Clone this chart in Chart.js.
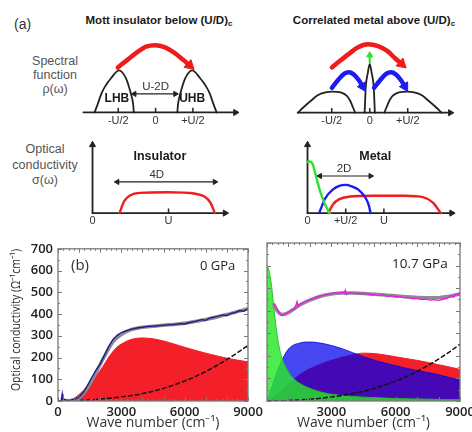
<!DOCTYPE html>
<html>
<head>
<meta charset="utf-8">
<script src="https://cdn.jsdelivr.net/npm/chart.js@4.4.1/dist/chart.umd.min.js"></script>
<style>
body{margin:0;width:472px;height:432px;overflow:hidden;background:#fff;position:relative;font-family:"Liberation Sans",Arial,sans-serif;}
canvas{position:absolute;}
.lbl{position:absolute;white-space:nowrap;color:#333;}
.ttl{position:absolute;white-space:nowrap;color:#1a1a1a;font-weight:bold;font-size:11.5px;line-height:14px;text-align:center;width:200px;}
.ttl sub{font-size:8px;vertical-align:-2px;}
.side{position:absolute;color:#555;font-size:12.5px;text-align:center;}
</style>
</head>
<body>

<div class="lbl" style="left:14px;top:16px;font-size:14px;">(a)</div>
<div class="ttl" style="left:59px;top:13px;">Mott insulator below (U/D)<sub>c</sub></div>
<div class="ttl" style="left:274px;top:13px;">Correlated metal above (U/D)<sub>c</sub></div>
<div class="side" style="left:15px;top:54px;width:80px;line-height:14px;">Spectral<br>function<br>ρ(ω)</div>
<div class="side" style="left:0px;top:142px;width:90px;line-height:15.5px;">Optical<br>conductivity<br>σ(ω)</div>

<canvas id="specIns"></canvas>
<canvas id="specMet"></canvas>
<canvas id="condIns"></canvas>
<canvas id="condMet"></canvas>
<canvas id="gpa0"></canvas>
<canvas id="gpa107"></canvas>

<div class="lbl" style="left:15px;top:320px;font-family:'Open Sans';font-size:12.5px;color:#2a2a2a;transform:translate(-50%,-50%) rotate(-90deg) scaleX(0.84);">Optical conductivity (Ω⁻¹cm⁻¹)</div>
<div class="lbl" style="left:71px;top:254px;font-family:'Open Sans';font-size:15px;">(b)</div>
<div class="lbl" style="left:200px;top:256px;font-family:'Open Sans';font-size:13px;color:#222;">0 GPa</div>
<div class="lbl" style="left:392px;top:254px;font-family:'Open Sans';font-size:13.5px;color:#222;">10.7 GPa</div>

<script>

/* ---------- (a) spectral function, x in units of U/2 ---------- */

const specTicks = [-1, 0, 1];
const specTickText = ["-U/2", "0", "+U/2"];

const lhbX = [-1.637,-1.556,-1.447,-1.341,-1.2,-0.978,-0.79,-0.723,-0.667,-0.6,-0.583];
const lhbY = [0,0.186,0.462,0.636,0.807,1,0.807,0.636,0.462,0.186,0];
const uhbX = [0.583,0.6,0.667,0.723,0.79,0.978,1.2,1.341,1.447,1.556,1.637];
const uhbY = [0,0.186,0.462,0.636,0.807,1,0.807,0.636,0.462,0.186,0];
const hopInsX = [-1.012,-0.748,-0.5,-0.254,-0.007,0.24,0.487,0.733,0.914];
const hopInsY = [1.07,1.257,1.429,1.567,1.6,1.553,1.429,1.257,1.118];
const gapX = [-0.568, 0.528];
const gapY = 0.441;
const specAxisInsX = [-1.933, 2.141];

const hbLeftX = [-1.896,-1.735,-1.532,-1.371,-1.167,-0.983,-0.765,-0.602,-0.522,-0.439,-0.383];
const hbRightX = [0.383,0.439,0.522,0.602,0.765,0.983,1.167,1.371,1.532,1.735,1.896];
const hbLeftY = [0,0.137,0.296,0.414,0.482,0.503,0.482,0.4,0.296,0.124,0];
const hbRightY = [0,0.124,0.296,0.4,0.482,0.503,0.482,0.414,0.296,0.137,0];
const qpX = [-0.135,-0.105,-0.05,0,0.05,0.105,0.135];
const qpY = [0,0.6,0.95,1.16,0.95,0.6,0];
const hopMetX = [-0.995,-0.791,-0.549,-0.306,-0.049,0.218,0.461,0.665,0.842];
const hopMetY = [1.077,1.228,1.4,1.559,1.627,1.586,1.47,1.296,1.159];
const hopLeftX = [-0.995,-0.833,-0.67,-0.549,-0.427,-0.291,-0.184];
const hopRightX = [0.114,0.277,0.439,0.561,0.682,0.818,0.925];
const hopSmallY = [0.592,0.778,0.932,0.965,0.917,0.778,0.621];
const qpArrowX = [0, 0];
const qpArrowY = [1.2, 1.37];
const specAxisMetX = [-1.883, 2.121];

/* ---------- (a) optical conductivity, x in units of U ---------- */

const sigInsX = [0.355,0.417,0.498,0.62,0.988,1.355,1.478,1.551,1.609];
const sigInsY = [0,0.277,0.414,0.47,0.484,0.449,0.381,0.242,0];
const band4DX = [0.326, 1.609];
const band4DY = 0.725;
const condAxisInsX = [0, 1.744];

const drudeSchX = [0,0.03,0.07,0.11,0.17,0.23,0.29];
const drudeSchY = [1.19,1.2,1.13,0.86,0.48,0.2,0];
const midSchX = [0.151,0.191,0.233,0.335,0.417,0.498,0.58,0.662,0.763,0.804,0.825];
const midSchY = [0,0.174,0.346,0.553,0.636,0.656,0.621,0.553,0.346,0.174,0];
const hubSchX = [0.273,0.335,0.417,0.539,0.865,1.275,1.52,1.642,1.744];
const hubSchY = [0,0.207,0.325,0.381,0.402,0.402,0.366,0.242,0];
const band2DX = [0.163, 0.825];
const band2DY = 0.863;
const condAxisMetX = [0, 1.887];
const condAxisTop = 1.588;

/* ---------- (b) measured / fitted spectra ---------- */

const wn0 = [150,200,230,300,400,500,600,800,1000,1200,1400,1600,1800,2000,2200,2400,2600,2800,3000,3200,3400,3600,3800,4000,4300,4600,4900,5200,5500,5800,6000,6200,6500,6800,7000,7200,7500,7800,8000,8200,8400,8600,8800,9000];
const sig0 = [2,32,6,8,4,3,4,8,18,40,72,108,142,172,210,250,282,302,315,322,328,333,337,339,343,345,348,350,352,356,354,360,366,374,371,382,388,396,393,403,407,416,413,424];
const fitW0 = [300,600,1000,1400,1800,2200,2600,3000,3400,3800,4200,5000,6000,7000,8000,9000];
const fit0 = [0,3,15,62,130,205,272,306,326,336,341,348,358,375,398,425];
const redW0 = [300,600,1000,1500,2000,2500,2800,3000,3500,4000,4500,5000,5500,6000,6500,7000,7500,8000,8500,9000];
const red0 = [0,5,30,80,140,215,248,262,284,290,286,276,262,247,233,220,208,197,188,180];

const dashW = [0,1000,2000,3000,3500,4000,4500,5000,5500,6000,6500,7000,7500,8000,8500,9000];
const dash0 = [0,2,9,19,25,34,45,58,74,92,112,136,162,191,222,255];
const dash107 = [0,2,8,18,25,33,43,56,71,88,108,131,157,186,217,252];

const wn107 = [300,400,500,600,700,800,900,1000,1100,1200,1300,1400,1450,1500,1600,1700,1800,2000,2200,2400,2600,2800,3000,3200,3400,3500,3600,3650,3700,3800,4000,4200,4400,4600,4800,5000,5200,5400,5600,5800,6000,6200,6400,6600,6800,7000,7200,7400,7600,7800,8000,8200,8400,8600,8700,8800,8900,9000];
const sig107 = [432,418,401,388,379,381,387,394,399,404,410,440,418,426,430,437,441,449,455,463,468,472,476,480,478,483,476,490,472,479,477,479,475,477,471,473,468,470,464,466,461,463,457,459,453,455,449,452,447,449,446,451,455,466,460,474,470,482];
const fitW107 = [300,500,700,900,1200,1500,2000,2500,3000,3500,4000,4500,5000,5500,6000,6500,7000,7500,8000,8500,9000];
const fit107 = [430,397,383,387,404,424,447,464,474,479,478,476,473,470,466,462,459,457,458,464,474];
const drudeW = [0,100,200,300,400,500,600,700,800,1000,1200,1500,2000,2500,3000,4000,5000,6000,7000,8000,9000];
const drude107 = [602,575,520,430,345,275,225,190,165,128,103,80,56,40,30,20,15,11,9,7,6];
const midW = [0,200,400,600,800,1000,1200,1500,1800,2100,2400,2700,3000,3500,4000,4500,5000,5500,6000,6500,7000,7500,8000,8500,9000];
const mid107 = [0,55,110,160,200,230,246,256,261,261,258,253,246,232,214,196,181,168,156,145,135,126,116,104,92];
const hubW = [0,500,1000,1500,2000,2500,3000,3500,4000,4500,5000,5500,6000,6500,7000,7500,8000,8500,9000];
const hub107 = [0,30,72,115,143,163,180,194,205,212,210,204,196,188,180,171,161,151,140];


/* layout of the four sketches (page pixels of the data origin and pixels per unit) */
const boxSpecIns = {left:70, top:28, w:178, h:108, x0:155.3, sx:40.5, y0:117, sy:48.3};
const boxSpecMet = {left:285, top:28, w:180, h:108, x0:369.3, sx:41.2, y0:117.3, sy:48.3};
const boxCondIns = {left:78, top:134, w:160, h:100, x0:87.7, sx:81.6, y0:216.7, sy:48.3};
const boxCondMet = {left:292, top:134, w:172, h:100, x0:302.7, sx:81.6, y0:216.7, sy:48.3};

const RED = "#f01c1c", BLUE = "#1c1cf2", GREEN = "#30e030", INK = "#222";
const straight = {cubicInterpolationMode: "default", tension: 0};

function pts(xs, ys){
   return xs.map((x, i) => ({x: x, y: Array.isArray(ys) ? ys[i] : ys}));
}

function line(xs, ys, color, width, extra){
   return Object.assign({
      data: pts(xs, ys),
      borderColor: color,
      backgroundColor: color,
      borderWidth: width,
      pointRadius: 0,
      fill: false,
      clip: false,
      cubicInterpolationMode: "monotone",
      borderCapStyle: "round"
   }, extra || {});
}

/* triangle point on the last (and optionally first) point = arrow head */
function arrow(ds, rot, r, both){
   let n = ds.data.length;
   ds.pointStyle = "triangle";
   ds.pointRadius = ds.data.map((_, i) => (i === n - 1 || (both && i === 0)) ? r : 0);
   ds.pointRotation = both ? [rot + 180, rot] : rot;
   ds.pointBackgroundColor = ds.borderColor;
   ds.pointBorderColor = ds.borderColor;
   ds.pointBorderWidth = 1;
   return ds;
}

function tickMarks(xs){
   return {
      data: pts(xs, 0.05),
      showLine: false,
      pointStyle: "line",
      pointRotation: 90,
      pointRadius: 2.5,
      pointBorderColor: INK,
      pointBorderWidth: 1.5,
      clip: false
   };
}

const notesPlugin = {
   id: "notes",
   afterDatasetsDraw(chart, args, opts){
      let ctx = chart.ctx;
      let x = chart.scales.x, y = chart.scales.y;
      (opts.items || []).forEach(n => {
         ctx.save();
         ctx.font = n.font;
         ctx.fillStyle = n.color || "#333";
         ctx.textAlign = "center";
         ctx.textBaseline = "middle";
         ctx.fillText(n.text, x.getPixelForValue(n.x), y.getPixelForValue(n.y));
         ctx.restore();
      });
   }
};

function sketch(id, b, datasets, notes){
   let cv = document.getElementById(id);
   cv.width = b.w;
   cv.height = b.h;
   cv.style.left = b.left + "px";
   cv.style.top = b.top + "px";
   return new Chart(cv, {
      type: "line",
      data: {datasets: datasets},
      options: {
         responsive: false,
         animation: false,
         events: [],
         layout: {padding: 0},
         plugins: {legend: {display: false}, tooltip: {enabled: false}, notes: {items: notes}},
         scales: {
            x: {type: "linear", display: false, min: (b.left - b.x0) / b.sx, max: (b.left + b.w - b.x0) / b.sx},
            y: {type: "linear", display: false, min: (b.y0 - b.top - b.h) / b.sy, max: (b.y0 - b.top) / b.sy}
         }
      },
      plugins: [notesPlugin]
   });
}

const fSmall = "11px 'Liberation Sans'";
const fMid = "11.5px 'Liberation Sans'";
const fBold = "bold 12px 'Liberation Sans'";
const fBoldL = "bold 12.5px 'Liberation Sans'";

function tickNotes(xs, texts, y){
   return xs.map((x, i) => ({x: x, y: y, text: texts[i], font: fSmall, color: "#333"}));
}

/* spectral function: insulator */
sketch("specIns", boxSpecIns, [
   arrow(line(hopInsX, hopInsY, RED, 4.5), 132, 6),
   arrow(line(gapX, gapY, INK, 1.2, straight), 90, 3, true),
   line(lhbX, lhbY, INK, 1.8),
   line(uhbX, uhbY, INK, 1.8),
   arrow(line(specAxisInsX, 0, INK, 1.8, straight), 90, 3.5),
   tickMarks(specTicks)
], [
   {x: -1.037, y: 0.337, text: "LHB", font: fBold, color: "#1a1a1a"},
   {x: 0.98, y: 0.337, text: "UHB", font: fBold, color: "#1a1a1a"},
   {x: 0, y: 0.615, text: "U-2D", font: fMid}
].concat(tickNotes(specTicks, specTickText, -0.193)));

/* spectral function: metal */
sketch("specMet", boxSpecMet, [
   arrow(line(hopMetX, hopMetY, RED, 4.5), 132, 6),
   arrow(line(hopLeftX, hopSmallY, BLUE, 4.5), 150, 5.5),
   arrow(line(hopRightX, hopSmallY, BLUE, 4.5), 150, 5.5),
   arrow(line(qpArrowX, qpArrowY, GREEN, 2.2, straight), 0, 3.5),
   line(qpX, qpY, INK, 1.8),
   line(hbLeftX, hbLeftY, INK, 1.8),
   line(hbRightX, hbRightY, INK, 1.8),
   arrow(line(specAxisMetX, 0, INK, 1.8, straight), 90, 3.5),
   tickMarks(specTicks)
], tickNotes(specTicks, specTickText, -0.207));

/* optical conductivity: insulator */
sketch("condIns", boxCondIns, [
   arrow(line(band4DX, band4DY, INK, 1.2, straight), 90, 3, true),
   line(sigInsX, sigInsY, RED, 2.4),
   arrow(line(condAxisInsX, 0, INK, 1.8, straight), 90, 3.5),
   arrow(line([0, 0], [0, condAxisTop], INK, 1.8, straight), 0, 3.5),
   tickMarks([1])
], [
   {x: 0.886, y: 1.313, text: "Insulator", font: fBoldL, color: "#1a1a1a"},
   {x: 0.846, y: 0.898, text: "4D", font: fMid}
].concat(tickNotes([0, 1], ["0", "U"], -0.172)));

/* optical conductivity: metal */
sketch("condMet", boxCondMet, [
   arrow(line(band2DX, band2DY, INK, 1.2, straight), 90, 3, true),
   line(drudeSchX, drudeSchY, GREEN, 2.4),
   line(midSchX, midSchY, BLUE, 2.4),
   line(hubSchX, hubSchY, RED, 2.4),
   arrow(line(condAxisMetX, 0, INK, 1.8, straight), 90, 3.5),
   arrow(line([0, 0], [0, condAxisTop], INK, 1.8, straight), 0, 3.5),
   tickMarks([0.5, 1])
], [
   {x: 0.886, y: 1.313, text: "Metal", font: fBoldL, color: "#1a1a1a"},
   {x: 0.478, y: 1.035, text: "2D", font: fMid}
].concat(tickNotes([0, 0.5, 1], ["0", "+U/2", "U"], -0.172)));


/* ---------- (b) panels ---------- */

const frameTicks = {
   id: "frameTicks",
   afterDatasetsDraw(chart, args, o){
      let ctx = chart.ctx, a = chart.chartArea;
      let x = chart.scales.x, y = chart.scales.y;
      ctx.save();
      ctx.strokeStyle = "#7a7a7a";
      ctx.lineWidth = 1;
      ctx.beginPath();
      for(let v = 0; v <= 9000; v += 250){
         let p = Math.round(x.getPixelForValue(v)) + 0.5;
         let len = v % 1000 === 0 ? 4 : 2;
         ctx.moveTo(p, a.bottom); ctx.lineTo(p, a.bottom - len);
         ctx.moveTo(p, a.top); ctx.lineTo(p, a.top + len);
      }
      for(let v = 0; v <= 700; v += 50){
         let p = Math.round(y.getPixelForValue(v)) + 0.5;
         let len = v % 100 === 0 ? 4 : 2;
         ctx.moveTo(a.left, p); ctx.lineTo(a.left + len, p);
         ctx.moveTo(a.right, p); ctx.lineTo(a.right - len, p);
      }
      ctx.stroke();
      ctx.lineWidth = 1.3;
      ctx.strokeRect(a.left, a.top, a.right - a.left, a.bottom - a.top);
      ctx.restore();
   }
};

const tickFont = {family: "'Open Sans'", size: 13, weight: "600"};

function panel(id, left, width, datasets, showY){
   let cv = document.getElementById(id);
   cv.width = width;
   cv.height = 196;
   cv.style.left = left + "px";
   cv.style.top = "236px";
   let yScale = {
      type: "linear", min: 0, max: 700, display: showY,
      grid: {display: false, drawTicks: false}, border: {display: false},
      ticks: {stepSize: 100, padding: 5, color: "#222", font: tickFont, callback: v => String(v)}
   };
   if(showY) yScale.afterFit = s => { s.width = 58; };
   return new Chart(cv, {
      type: "line",
      data: {datasets: datasets},
      options: {
         responsive: false,
         animation: false,
         events: [],
         layout: {padding: {left: showY ? 0 : 17, top: 7, right: 18, bottom: 0}},
         plugins: {legend: {display: false}, tooltip: {enabled: false}},
         scales: {
            x: {
               type: "linear", min: 0, max: 9000,
               grid: {display: false, drawTicks: false}, border: {display: false},
               ticks: {
                  stepSize: 3000, padding: 3, color: "#222", font: tickFont, maxRotation: 0,
                  callback: v => (showY || v > 0) ? String(v) : ""
               },
               title: {
                  display: true, text: "Wave number (cm⁻¹)", color: "#333",
                  font: {family: "'Open Sans'", size: 14}, padding: {top: 0, bottom: 1}
               },
               afterFit: s => { s.height = 31; }
            },
            y: yScale
         }
      },
      plugins: [frameTicks]
   });
}

function spec(xs, ys, color, width, extra){
   return Object.assign({
      data: pts(xs, ys),
      borderColor: color,
      borderWidth: width,
      pointRadius: 0,
      fill: false,
      tension: 0
   }, extra || {});
}

const smooth = {cubicInterpolationMode: "monotone"};

panel("gpa0", 0, 266, [
   spec(wn0, sig0, "#1c1c8e", 1.4),
   spec(fitW0, fit0, "#8c8c8c", 3.5, smooth),
   spec(dashW, dash0, "#111", 1.5, {cubicInterpolationMode: "monotone", borderDash: [5, 2]}),
   spec(redW0, red0, "rgb(243,32,42)", 1, {cubicInterpolationMode: "monotone", fill: "origin", backgroundColor: "rgb(243,32,42)"})
], true);

panel("gpa107", 250, 228, [
   spec(wn107, sig107, "#e81ee8", 1.4),
   spec(fitW107, fit107, "#8c8c8c", 3.5, smooth),
   spec(dashW, dash107, "#111", 1.5, {cubicInterpolationMode: "monotone", borderDash: [5, 2]}),
   spec(drudeW, drude107, "rgba(30,190,30,0.9)", 1, {cubicInterpolationMode: "monotone", fill: "origin", backgroundColor: "rgba(40,232,40,0.82)"}),
   spec(midW, mid107, "rgba(0,0,220,0.8)", 1, {cubicInterpolationMode: "monotone", fill: "origin", backgroundColor: "rgba(0,0,235,0.72)"}),
   spec(hubW, hub107, "rgb(243,32,42)", 1, {cubicInterpolationMode: "monotone", fill: "origin", backgroundColor: "rgb(243,32,42)"})
], false);

</script>
</body>
</html>
